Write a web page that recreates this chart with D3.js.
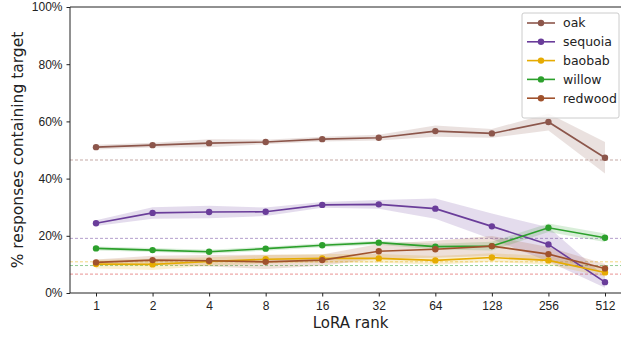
<!DOCTYPE html>
<html>
<head>
<meta charset="utf-8">
<script src="https://cdnjs.cloudflare.com/ajax/libs/d3/7.8.5/d3.min.js"></script>
<style>
  body { margin: 0; background: #fff; }
  svg { font-family: "DejaVu Sans", sans-serif; display: block; }
</style>
</head>
<body>
<script>
// data (percent)
const ranks = ["1", "2", "4", "8", "16", "32", "64", "128", "256", "512"];
const names = ["oak", "sequoia", "baobab", "willow", "redwood"];
const colors = ["#8c564b", "#6a3d9a", "#e6ab02", "#2ca02c", "#a0522d"];

const oak     = [51.0, 51.7, 52.4, 52.8, 53.8, 54.3, 56.6, 55.8, 59.8, 47.3];
const sequoia = [24.4, 28.0, 28.3, 28.4, 30.8, 31.0, 29.5, 23.3, 17.0, 3.8];
const baobab  = [10.1, 10.0, 11.0, 11.8, 12.1, 12.1, 11.4, 12.4, 11.4, 7.2];
const willow  = [15.6, 15.0, 14.4, 15.5, 16.7, 17.6, 16.2, 16.4, 22.8, 19.3];
const redwood = [10.7, 11.5, 11.3, 10.9, 11.5, 14.6, 15.3, 16.4, 13.6, 8.6];

// half-width of shaded bands
const oakErr     = [0.8, 0.8, 1.4, 0.8, 0.8, 1.0, 2.0, 1.5, 3.0, 5.5];
const sequoiaErr = [1.0, 2.0, 2.2, 1.5, 1.0, 1.5, 3.5, 4.5, 6.0, 2.0];
const baobabErr  = [1.5, 2.0, 1.5, 1.5, 1.5, 1.5, 1.5, 1.5, 1.5, 1.5];
const willowErr  = [0.7, 0.7, 0.7, 0.7, 0.7, 0.7, 1.0, 1.5, 1.5, 1.5];
const redwoodErr = [1.0, 1.5, 2.0, 2.5, 2.0, 2.5, 3.0, 3.5, 2.5, 1.5];

const baselines = [46.5, 19.1, 10.9, 9.6, 6.6];

const series = [oak, sequoia, baobab, willow, redwood];
const errs = [oakErr, sequoiaErr, baobabErr, willowErr, redwoodErr];

const W = 621, H = 337;
const padLeft = 70, padRight = 631, padTop = 7, padBottom = 293;

const svg = d3.select("body").append("svg")
    .attr("width", W).attr("height", H);

const x = d3.scaleLinear().domain([-0.46, 9.46]).range([padLeft, padRight]);
const y = d3.scaleLinear().domain([0, 100]).range([padBottom, padTop]);

// baselines
svg.selectAll("line.base")
  .data(baselines)
  .enter().append("line")
  .attr("class", "base")
  .attr("x1", padLeft).attr("x2", padRight)
  .attr("y1", d => y(d)).attr("y2", d => y(d))
  .attr("stroke", (d, i) => i == 4 ? "#d62728" : colors[i])
  .attr("stroke-opacity", 0.5)
  .attr("stroke-width", 1)
  .attr("stroke-dasharray", "3,2");

const area = d3.area()
    .x((d, i) => x(i))
    .y0(d => y(d[0] - d[1]))
    .y1(d => y(d[0] + d[1]));

const line = d3.line()
    .x((d, i) => x(i))
    .y(d => y(d));

series.forEach(function(vals, k) {
  svg.append("path")
    .datum(vals.map((v, i) => [v, errs[k][i]]))
    .attr("d", area)
    .attr("fill", colors[k])
    .attr("fill-opacity", 0.18);
});

series.forEach(function(vals, k) {
  const g = svg.append("g");
  g.append("path")
    .datum(vals)
    .attr("d", line)
    .attr("fill", "none")
    .attr("stroke", colors[k])
    .attr("stroke-width", 1.6);
  g.selectAll("circle")
    .data(vals)
    .enter().append("circle")
    .attr("cx", (d, i) => x(i))
    .attr("cy", d => y(d))
    .attr("r", 3.2)
    .attr("fill", colors[k]);
});

// axes
const xAxis = d3.axisBottom(x)
    .tickValues(d3.range(10))
    .tickFormat(i => ranks[i])
    .tickSize(3.5).tickPadding(5);
const yAxis = d3.axisLeft(y)
    .tickValues([0, 20, 40, 60, 80, 100])
    .tickFormat(d => d + "%")
    .tickSize(3.5).tickPadding(4);

const gx = svg.append("g")
  .attr("transform", "translate(0," + padBottom + ")")
  .call(xAxis);
const gy = svg.append("g")
  .attr("transform", "translate(" + padLeft + ",0)")
  .call(yAxis);
[gx, gy].forEach(function(g) {
  g.selectAll("text").style("font-size", "12px").attr("fill", "#222");
  g.selectAll("line").attr("stroke", "#222");
  g.select(".domain").attr("stroke", "#222").attr("stroke-width", 1);
});
gx.select(".domain").attr("d", "M" + padLeft + ",0H" + padRight);
gy.select(".domain").attr("d", "M0," + padBottom + "V" + padTop);

// top spine
svg.append("line")
  .attr("x1", padLeft).attr("x2", padRight)
  .attr("y1", padTop).attr("y2", padTop)
  .attr("stroke", "#222");

svg.append("text")
  .attr("x", (padLeft + padRight) / 2).attr("y", 328)
  .attr("text-anchor", "middle")
  .style("font-size", "15px")
  .attr("fill", "#222")
  .text("LoRA rank");

svg.append("text")
  .attr("transform", "translate(22.5," + (padTop + padBottom) / 2 + ") rotate(-90)")
  .attr("text-anchor", "middle")
  .style("font-size", "15.5px")
  .attr("fill", "#222")
  .text("% responses containing target");

// legend
const leg = svg.append("g").attr("transform", "translate(522,13)");
leg.append("rect")
  .attr("width", 97).attr("height", 105)
  .attr("rx", 2)
  .attr("fill", "#fff").attr("fill-opacity", 0.8)
  .attr("stroke", "#ccc");
names.forEach(function(n, i) {
  const row = leg.append("g").attr("transform", "translate(0," + (10 + i * 18.8) + ")");
  row.append("line")
    .attr("x1", 5).attr("x2", 33)
    .attr("stroke", colors[i]).attr("stroke-width", 1.6);
  row.append("circle").attr("cx", 19).attr("r", 3.2).attr("fill", colors[i]);
  row.append("text")
    .attr("x", 41).attr("dy", "0.35em")
    .style("font-size", "12.5px")
    .attr("fill", "#222")
    .text(n);
});
</script>
</body>
</html>
